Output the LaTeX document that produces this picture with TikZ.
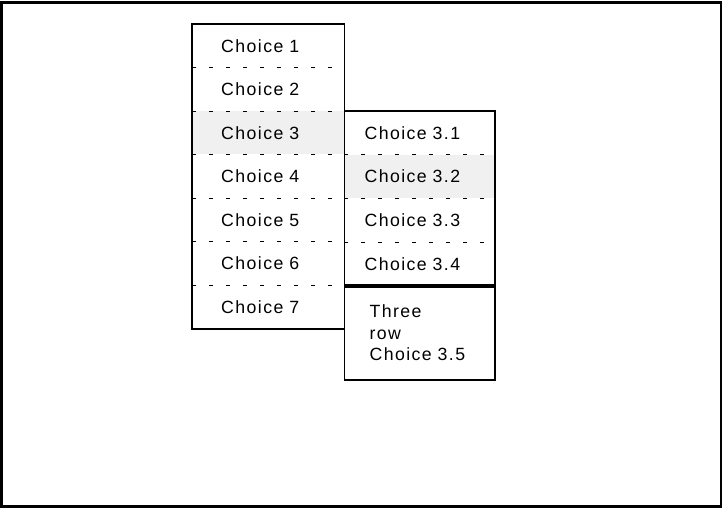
\documentclass[tikz,border=0pt]{standalone}
\usepackage{fontspec}
\setmainfont{Liberation Sans}[LetterSpace=8,WordSpace=1.5]
\begin{document}
\begin{tikzpicture}[x=1pt,y=-1pt,
  menufont/.style={font=\fontsize{17.7}{21.3}\selectfont},
  lrow/.style={menufont, anchor=north west, inner xsep=29pt, inner ysep=0pt, text width=94pt, align=left,
    minimum height=43.14pt},
  rrow/.style={menufont, anchor=north west, inner xsep=20pt, inner ysep=0pt, text width=110pt, align=left,
    minimum height=43.25pt},
  hl/.style={fill=black!6},
  dashline/.style={line width=0.8pt, dash pattern=on 4pt off 13pt},
  boxline/.style={line width=1.5pt}]
\useasboundingbox (0,0) rectangle (723,508);
\draw[line width=2.2pt] (1.5,2.5) rectangle (721,506.5);
% left menu
\node[lrow] (c1) at (192,24) {Choice 1};
\node[lrow] (c2) at (c1.south west) {Choice 2};
\node[lrow,hl] (c3) at (c2.south west) {Choice 3};
\node[lrow] (c4) at (c3.south west) {Choice 4};
\node[lrow] (c5) at (c4.south west) {Choice 5};
\node[lrow] (c6) at (c5.south west) {Choice 6};
\node[lrow] (c7) at (c6.south west) {Choice 7};
\foreach \n in {c1,c2,c3,c4,c5,c6}{\draw[dashline] (\n.south west) -- (\n.south east);}
\draw[boxline] (c1.north west) rectangle (c7.south east);
% sub menu
\node[rrow] (s1) at (c3.north east) {Choice 3.1};
\node[rrow,hl] (s2) at (s1.south west) {Choice 3.2};
\node[rrow] (s3) at (s2.south west) {Choice 3.3};
\node[rrow] (s4) at (s3.south west) {Choice 3.4};
\node[menufont, anchor=north west, inner xsep=25pt, inner ysep=0pt, text width=100pt, align=left,
    minimum height=94pt] (s5) at (s4.south west) {Three\\row\\Choice~3.5};
\foreach \n in {s1,s2,s3}{\draw[dashline] (\n.south west) -- (\n.south east);}
\draw[boxline] (s1.north west) rectangle (s5.south east);
\draw[line width=4pt] (s4.south west) -- (s4.south east);
\end{tikzpicture}
\end{document}
